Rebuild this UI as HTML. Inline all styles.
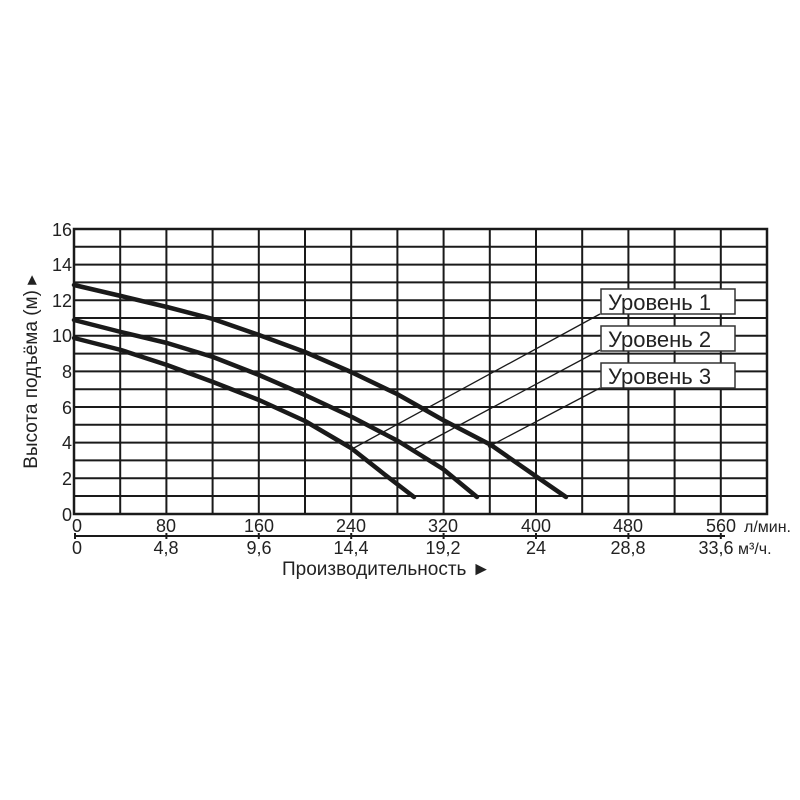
<!DOCTYPE html>
<html><head><meta charset="utf-8"><style>
html,body{margin:0;padding:0;background:#fff;}
svg{display:block;}
text{font-family:"Liberation Sans",sans-serif;fill:#222;}
</style></head><body>
<svg width="800" height="800" viewBox="0 0 800 800" xmlns="http://www.w3.org/2000/svg">
<g stroke="#1a1a1a" stroke-width="2" fill="none">
<path d="M74 229H767M74 246.8H767M74 264.6H767M74 282.4H767M74 300.2H767M74 318H767M74 335.8H767M74 353.6H767M74 371.4H767M74 389.2H767M74 407H767M74 424.8H767M74 442.6H767M74 460.4H767M74 478.2H767M74 496H767"/>
<path d="M120.2 229V514M166.4 229V514M212.6 229V514M258.8 229V514M305 229V514M351.2 229V514M397.4 229V514M443.6 229V514M489.8 229V514M536 229V514M582.2 229V514M628.4 229V514M674.6 229V514M720.8 229V514"/>
<rect x="74" y="229" width="693" height="285" stroke-width="2.5"/>
</g>
<g stroke="#1a1a1a" stroke-width="1.3" fill="none">
<path d="M352 449L600 314"/>
<path d="M413 450L600 350"/>
<path d="M488 447L600 388"/>
</g>
<g fill="#fff" stroke="#333" stroke-width="1.5">
<rect x="601" y="289" width="134" height="25"/>
<rect x="601" y="326" width="134" height="25"/>
<rect x="601" y="363" width="134" height="25"/>
</g>
<g font-size="22">
<text x="608" y="310">Уровень 1</text>
<text x="608" y="347">Уровень 2</text>
<text x="608" y="384">Уровень 3</text>
</g>
<g stroke="#1a1a1a" stroke-width="4.5" fill="none" stroke-linecap="round" stroke-linejoin="round">
<polyline points="74,285 121,296 167,307 213,319 259,335 305,352 351,372 397,394 443,420 491,445 537,477 566,497"/>
<polyline points="74,320 121,332 167,343 213,357 259,375 305,395 352,417 398,441 443,469 477,497"/>
<polyline points="74,338 121,350 167,365 213,382 259,400 305,421 351,448 384,474 414,497"/>
</g>
<g font-size="18" text-anchor="end">
<text x="72" y="236">16</text>
<text x="72" y="271">14</text>
<text x="72" y="307">12</text>
<text x="72" y="342">10</text>
<text x="72" y="378">8</text>
<text x="72" y="414">6</text>
<text x="72" y="449">4</text>
<text x="72" y="485">2</text>
<text x="72" y="521">0</text>
</g>
<path d="M75 536H725" stroke="#1a1a1a" stroke-width="2"/>
<g stroke="#1a1a1a" stroke-width="2">
<path d="M75 533V539M166.4 533V539M258.8 533V539M351.2 533V539M443.6 533V539M536 533V539M628.4 533V539M720.8 533V539"/>
</g>
<g font-size="18" text-anchor="middle">
<text x="77" y="532">0</text><text x="166" y="532">80</text><text x="259" y="532">160</text><text x="351" y="532">240</text><text x="443" y="532">320</text><text x="536" y="532">400</text><text x="628" y="532">480</text><text x="721" y="532">560</text>
<text x="77" y="554">0</text><text x="166" y="554">4,8</text><text x="259" y="554">9,6</text><text x="351" y="554">14,4</text><text x="443" y="554">19,2</text><text x="536" y="554">24</text><text x="628" y="554">28,8</text><text x="716" y="554">33,6</text>
</g>
<text x="744" y="532" font-size="16">л/мин.</text>
<text x="738" y="554" font-size="16">м³/ч.</text>
<text x="282" y="575" font-size="19">Производительность ►</text>
<text transform="translate(37 372) rotate(-90)" font-size="19" text-anchor="middle">Высота подъёма (м) ▸</text>
</svg>
</body></html>
